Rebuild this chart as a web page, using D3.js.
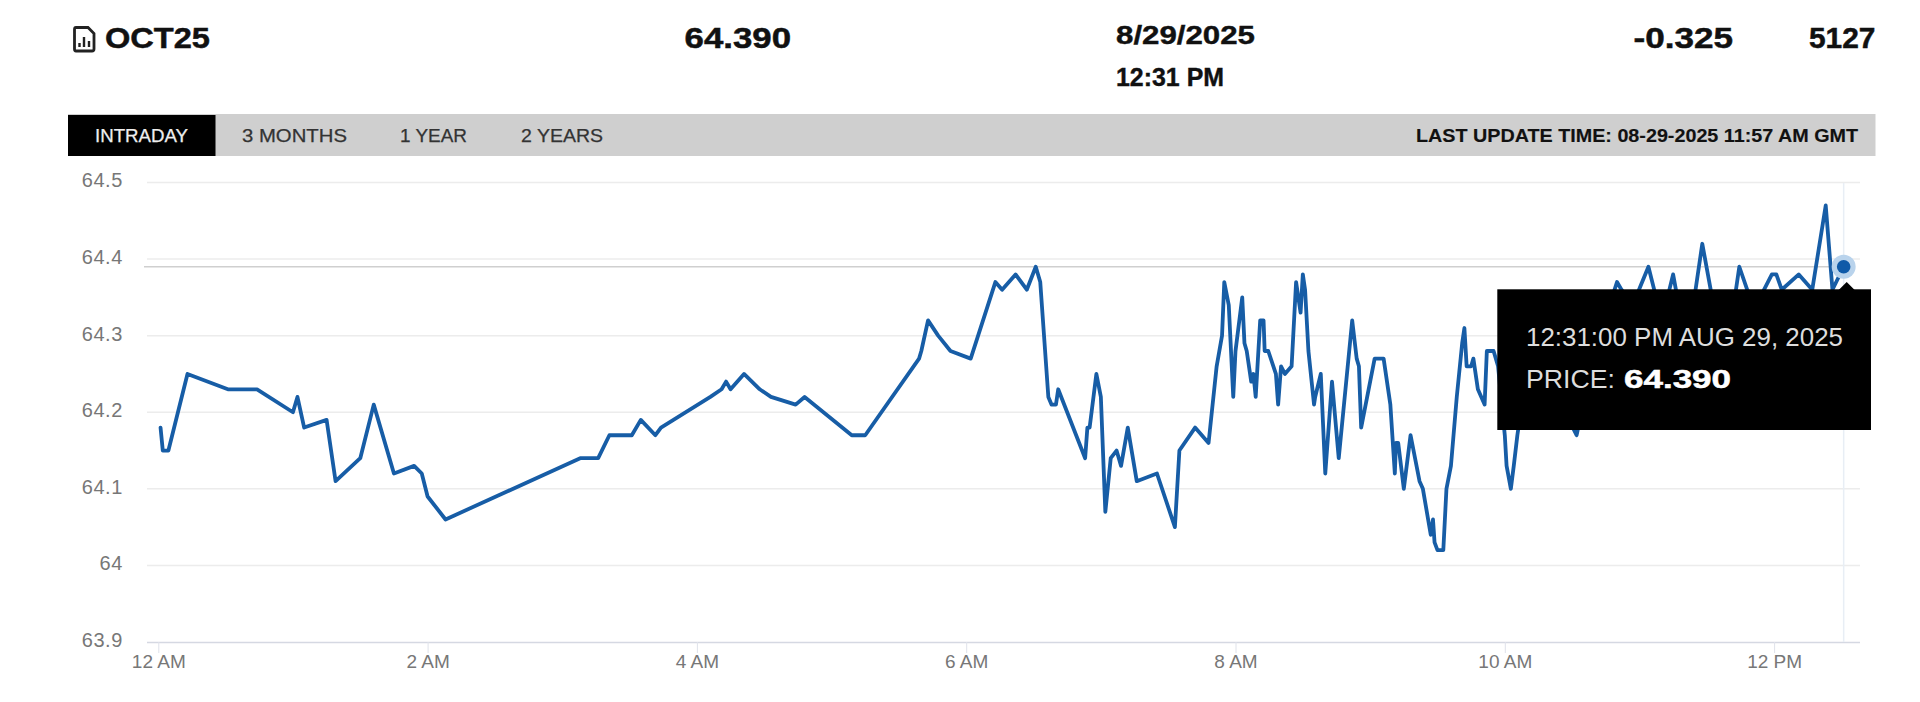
<!DOCTYPE html>
<html><head><meta charset="utf-8">
<script src="https://cdn.jsdelivr.net/npm/d3@7/dist/d3.min.js"></script>
<style>html,body{margin:0;padding:0;background:#fff;overflow:hidden}svg{display:block}text{font-family:"Liberation Sans",Arial,sans-serif}</style>
</head><body><svg id="c" width="1920" height="702"></svg>
<script>
// minutes after midnight
const minutes = [1,2,4.5,13,31,44,60,62,65,75,79,90,96,105,114,117.4,120,128,188,196,201,211,215,221.5,224,246,251,253,255,261,268,273,284,288,309,315,339,340,343,347.5,353,362,373,376,382,387,391,393,396.6,398,400,401,413,414,415,418,420,422,424.4,427,429,432,436,445,453,455,462,468,471.6,474,475,477,479,480,483,484,485,487,488,489,491,492.5,493,494.6,498,499,500.3,502,505,507,509,510,511,512.5,515,515.5,518,520,523,526,532,534,535,536,542,546,549,551,551.5,552.5,555,558,562,563.5,567,568,568.7,570,572.6,574,576,578.6,581,582,583,585,586,588,591,592,595,597,600,600.8,602.7,604,605.6,612,620,632,640,650,652,657,664,670,675,680,684,688,693,700,704.5,708,712,719,721,723.4,731,737,743,746,751];
const prices = [64.18,64.15,64.15,64.25,64.23,64.23,64.20,64.22,64.18,64.19,64.11,64.14,64.21,64.12,64.13,64.12,64.09,64.06,64.14,64.14,64.17,64.17,64.19,64.17,64.18,64.22,64.23,64.24,64.23,64.25,64.23,64.22,64.21,64.22,64.17,64.17,64.27,64.28,64.32,64.30,64.28,64.27,64.37,64.36,64.38,64.36,64.39,64.37,64.22,64.21,64.21,64.23,64.14,64.18,64.18,64.25,64.22,64.07,64.14,64.15,64.13,64.18,64.11,64.12,64.05,64.15,64.18,64.16,64.26,64.30,64.37,64.34,64.22,64.28,64.35,64.29,64.28,64.24,64.25,64.22,64.32,64.32,64.28,64.28,64.25,64.21,64.26,64.25,64.26,64.37,64.33,64.38,64.36,64.28,64.21,64.22,64.25,64.12,64.24,64.14,64.32,64.27,64.26,64.18,64.27,64.27,64.21,64.12,64.16,64.16,64.10,64.17,64.11,64.10,64.04,64.06,64.03,64.02,64.02,64.10,64.13,64.22,64.29,64.31,64.26,64.26,64.27,64.23,64.21,64.28,64.28,64.26,64.17,64.13,64.10,64.13,64.17,64.30,64.24,64.17,64.28,64.37,64.36,64.34,64.39,64.32,64.38,64.30,64.34,64.42,64.34,64.30,64.39,64.36,64.34,64.38,64.38,64.36,64.38,64.36,64.47,64.36,64.39];
const yTicks = [63.9,64,64.1,64.2,64.3,64.4,64.5];
const xTicks = [0,120,240,360,480,600,720];
const xLabels = ["12 AM","2 AM","4 AM","6 AM","8 AM","10 AM","12 PM"];
const tabs = ["INTRADAY","3 MONTHS","1 YEAR","2 YEARS"];
const tabStarts = [95,242,400,521];
const tabWidths = [93,105,67,82];

const svg = d3.select("#c");
const x = d3.scaleLinear().domain([0,720]).range([158.3,1774.1]);
const y = d3.scaleLinear().domain([63.9,64.5]).range([642,182.5]);
const points = minutes.map((m,i)=>({m,p:prices[i]}));
const last = points[points.length-1];

function t(txt,px,py,size,weight,fill,w,heavy){
  const n = svg.append("text").attr("x",px).attr("y",py).attr("font-size",size).attr("font-weight",weight||400)
    .attr("fill",fill||"#111").attr("dominant-baseline","central").text(txt);
  if(w) n.attr("textLength",w).attr("lengthAdjust","spacingAndGlyphs");
  if(heavy) n.attr("stroke",fill||"#111").attr("stroke-width",heavy);
  return n;
}
// header
const ic = svg.append("g").attr("fill","none").attr("stroke","#222").attr("stroke-width",2.8);
ic.append("path").attr("d","M76 27.5H88L94 33.5V49Q94 51 92 51H76Q74.5 51 74.5 49V29.5Q74.5 27.5 76 27.5Z");
ic.append("path").attr("d","M79.5 47V43M84 47V37M89 47V41").attr("stroke-width",2.4);
t("OCT25",105,37,30,700,"#111",105,0.5);
t("64.390",684.6,37,30,700,"#111",106.5,0.5);
t("8/29/2025",1116,35,25.5,700,"#111",139,0.4);
t("12:31 PM",1116,77,25.5,700,"#111",108,0.4);
t("-0.325",1633.6,37,30,700,"#111",99.5,0.5);
t("5127",1809,37,30,700,"#111",66.5,0.5);
// tab bar
svg.append("rect").attr("x",68).attr("y",114).attr("width",1807.5).attr("height",42).attr("fill","#cfcfcf");
svg.append("rect").attr("x",68).attr("y",115).attr("width",147.5).attr("height",41).attr("fill","#000");
tabs.forEach((s,i)=>t(s,tabStarts[i],135.5,18,400,i?"#333":"#eee",tabWidths[i],0.25));
t("LAST UPDATE TIME: 08-29-2025 11:57 AM GMT",1416,135.5,18,700,"#111",442,0.15);

// grid
const grid = svg.append("g");
grid.selectAll("line").data(yTicks.slice(1)).join("line")
  .attr("x1",147).attr("x2",1860).attr("y1",d=>y(d)).attr("y2",d=>y(d))
  .attr("stroke","#ececec").attr("stroke-width",1.5);
// axes
const yAxis = svg.append("g").attr("transform","translate(123,0)")
  .call(d3.axisLeft(y).tickValues(yTicks).tickSize(0).tickPadding(0).tickFormat(d=>String(+d.toFixed(1))));
yAxis.select(".domain").remove();
yAxis.selectAll("text").attr("font-size",20).attr("fill","#777").attr("font-family",'"Liberation Sans"').attr("dy","0.22em").attr("letter-spacing",0.6);
const xAxis = svg.append("g").attr("transform","translate(0,642)")
  .call(d3.axisBottom(x).tickValues(xTicks).tickSize(11).tickPadding(2).tickFormat((d,i)=>xLabels[i]));
xAxis.select(".domain").attr("d","M147,0.5H1860").attr("stroke","#d5d8e2").attr("stroke-width",1.5);
xAxis.selectAll("line").attr("stroke","#dfe2ea");
xAxis.selectAll("text").attr("font-size",19).attr("fill","#777").attr("font-family",'"Liberation Sans"');
// crosshairs
svg.append("line").attr("x1",144).attr("x2",x(last.m)).attr("y1",y(last.p)).attr("y2",y(last.p)).attr("stroke","#cfcfcf").attr("stroke-width",1.5);
svg.append("line").attr("x1",x(last.m)).attr("x2",x(last.m)).attr("y1",183).attr("y2",642).attr("stroke","#e8eef5").attr("stroke-width",1.5);
// series
svg.append("path").datum(points).attr("fill","none").attr("stroke","#175da6").attr("stroke-width",3.8)
  .attr("stroke-linejoin","round").attr("stroke-linecap","round")
  .attr("d",d3.line().x(d=>x(d.m)).y(d=>y(d.p)));
svg.append("circle").attr("cx",x(last.m)).attr("cy",y(last.p)).attr("r",12).attr("fill","#b9d3ec");
svg.append("circle").attr("cx",x(last.m)).attr("cy",y(last.p)).attr("r",6.8).attr("fill","#0f5aa8");
// tooltip
svg.append("rect").attr("x",1497.3).attr("y",289.3).attr("width",373.7).attr("height",140.7).attr("fill","#000");
const cx=x(last.m)+3;
svg.append("path").attr("d",`M${cx-8} 290L${cx} 282L${cx+8} 290Z`).attr("fill","#000");
t("12:31:00 PM AUG 29, 2025",1526,337,25,400,"#ddd",317);
t("PRICE:",1526,379,25,400,"#ddd",89);
t("64.390",1624,379,26,700,"#fff",107,0.5);
</script></body></html>
